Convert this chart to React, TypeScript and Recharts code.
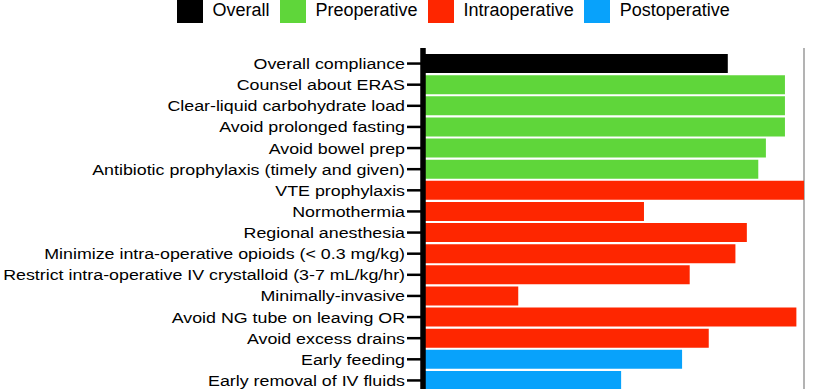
import { BarChart, Bar, XAxis, YAxis, CartesianGrid, Cell } from 'recharts';

const categories = [
  'Overall compliance',
  'Counsel about ERAS',
  'Clear-liquid carbohydrate load',
  'Avoid prolonged fasting',
  'Avoid bowel prep',
  'Antibiotic prophylaxis (timely and given)',
  'VTE prophylaxis',
  'Normothermia',
  'Regional anesthesia',
  'Minimize intra-operative opioids (< 0.3 mg/kg)',
  'Restrict intra-operative IV crystalloid (3-7 mL/kg/hr)',
  'Minimally-invasive',
  'Avoid NG tube on leaving OR',
  'Avoid excess drains',
  'Early feeding',
  'Early removal of IV fluids',
];

const compliance = [80, 95, 95, 95, 90, 88, 100, 58, 85, 82, 70, 25, 98, 75, 68, 52];

const phases = [
  'Overall',
  'Preoperative',
  'Preoperative',
  'Preoperative',
  'Preoperative',
  'Preoperative',
  'Intraoperative',
  'Intraoperative',
  'Intraoperative',
  'Intraoperative',
  'Intraoperative',
  'Intraoperative',
  'Intraoperative',
  'Intraoperative',
  'Postoperative',
  'Postoperative',
];

const legendItems = ['Overall', 'Preoperative', 'Intraoperative', 'Postoperative'];

const xTicks = [0, 20, 40, 60, 80, 100];

const phaseColors: Record<string, string> = {
  Overall: '#000000',
  Preoperative: '#5fd63a',
  Intraoperative: '#fe2600',
  Postoperative: '#08a2fb',
};

const data = categories.map((name, i) => ({
  name,
  value: compliance[i],
  phase: phases[i],
}));

const FONT = '"Liberation Sans", Arial, Helvetica, sans-serif';

// labels in the source are a bit wider than they are tall, hence the scaleX
function CategoryTick({ x, y, payload }: any) {
  return (
    <g transform={`translate(${x},${y})`}>
      <text
        transform="scale(1.15,1)"
        textAnchor="end"
        dy="0.355em"
        fontSize={15.5}
        fontFamily={FONT}
        fill="#000"
      >
        {payload.value}
      </text>
    </g>
  );
}

export default function App() {
  return (
    <div style={{ position: 'relative', width: 827, height: 389, overflow: 'hidden', background: '#fff' }}>
      <style>{'body{margin:0}'}</style>
      <div
        style={{
          position: 'absolute',
          left: 177,
          top: -2.5,
          display: 'flex',
          alignItems: 'center',
          fontFamily: FONT,
          fontSize: 18,
          color: '#000',
        }}
      >
        {legendItems.map((item) => (
          <div key={item} style={{ display: 'flex', alignItems: 'center', marginRight: 10.5 }}>
            <span
              style={{
                display: 'inline-block',
                width: 25.5,
                height: 25.5,
                background: phaseColors[item],
                marginRight: 10,
              }}
            />
            <span>{item}</span>
          </div>
        ))}
      </div>
      <BarChart
        width={827}
        height={426}
        data={data}
        layout="vertical"
        margin={{ top: 48, right: 23, bottom: 0, left: 0 }}
        barCategoryGap={1}
      >
        <CartesianGrid horizontal={false} stroke="#b3b3b3" strokeWidth={2} />
        <XAxis
          type="number"
          domain={[0, 100]}
          ticks={xTicks}
          height={30}
          axisLine={false}
          tickLine={false}
          tick={false}
        />
        <YAxis
          type="category"
          dataKey="name"
          width={423}
          padding={{ top: 5, bottom: 5 }}
          interval={0}
          tickSize={16}
          tickMargin={2}
          axisLine={{ stroke: '#000', strokeWidth: 5.5 }}
          tickLine={{ stroke: '#000', strokeWidth: 2.5 }}
          tick={<CategoryTick />}
        />
        <Bar dataKey="value" isAnimationActive={false}>
          {data.map((d) => (
            <Cell key={d.name} fill={phaseColors[d.phase]} />
          ))}
        </Bar>
      </BarChart>
    </div>
  );
}
